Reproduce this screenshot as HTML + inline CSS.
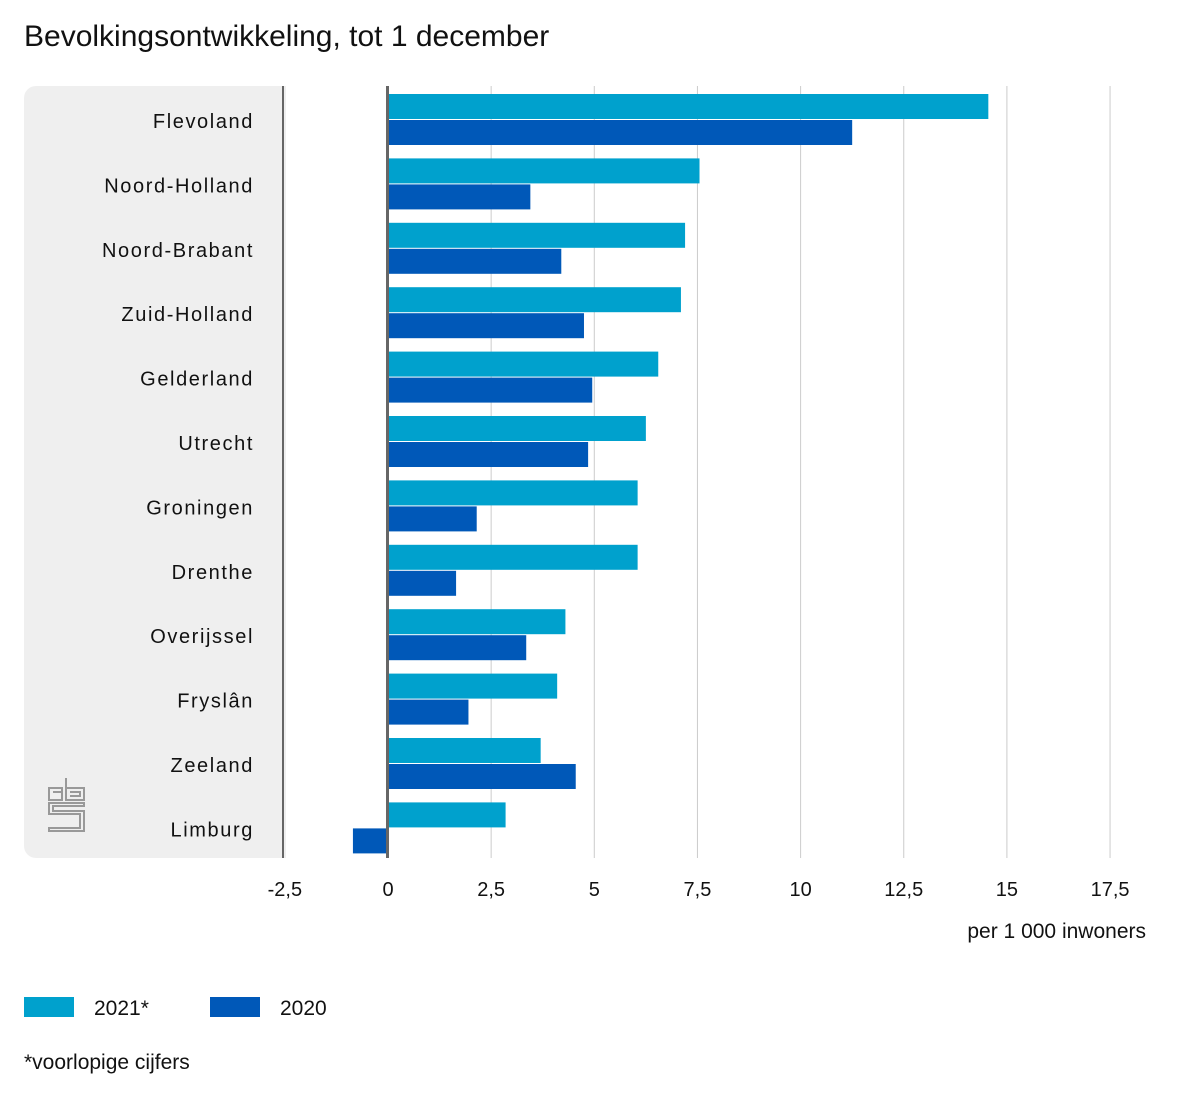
<!DOCTYPE html>
<html><head><meta charset="utf-8"><style>
body{margin:0;background:#fff;width:1200px;height:1100px;overflow:hidden;font-family:"Liberation Sans",sans-serif;}
</style></head><body>
<svg id="chart" width="1200" height="1100" xmlns="http://www.w3.org/2000/svg">
<text x="24" y="46" font-size="30" fill="#111">Bevolkingsontwikkeling, tot 1 december</text>
<rect x="24" y="86" width="262" height="772" rx="12" fill="#efefef"/>
<rect x="260" y="86" width="26" height="772" fill="#efefef"/>
<g id="grid"></g>
<g id="bars"></g>
<g id="labels"></g>
<line x1="283" y1="86" x2="283" y2="858" stroke="#666" stroke-width="2"/>
<line x1="387.5" y1="86" x2="387.5" y2="858" stroke="#666" stroke-width="3"/>
<text x="1146" y="938" font-size="21" text-anchor="end" fill="#111">per 1 000 inwoners</text>
<g fill="none" stroke="#999" stroke-width="2">
<path d="M49 788h13v12h-13z M53 792h9 M66 778v22h18v-12h-18 M70 792h10v4h-10"/>
<path d="M49 803h35v3h-31v5h31v20h-35v-3h31v-14h-31z"/>
</g>
<g>
<rect x="24" y="997" width="50" height="20" fill="#00a1cd"/>
<text x="94" y="1015" font-size="21" fill="#111">2021*</text>
<rect x="210" y="997" width="50" height="20" fill="#0058b8"/>
<text x="280" y="1015" font-size="21" fill="#111">2020</text>
</g>
<text x="24" y="1069" font-size="21" fill="#111">*voorlopige cijfers</text>
</svg>
<script>
const categories=["Flevoland","Noord-Holland","Noord-Brabant","Zuid-Holland","Gelderland","Utrecht","Groningen","Drenthe","Overijssel","Fryslân","Zeeland","Limburg"];
const values2021=[14.55,7.55,7.2,7.1,6.55,6.25,6.05,6.05,4.3,4.1,3.7,2.85];
const values2020=[11.25,3.45,4.2,4.75,4.95,4.85,2.15,1.65,3.35,1.95,4.55,-0.85];
const ticks=[-2.5,0,2.5,5,7.5,10,12.5,15,17.5];
const tickLabels=["-2,5","0","2,5","5","7,5","10","12,5","15","17,5"];
const NS="http://www.w3.org/2000/svg";
const x=v=>388+v*41.26;
const rowY=i=>88+i*64.4;
function mk(t,a,p){const e=document.createElementNS(NS,t);for(const k in a)e.setAttribute(k,a[k]);p.appendChild(e);return e;}
const grid=document.getElementById('grid'),bars=document.getElementById('bars'),labels=document.getElementById('labels');
ticks.forEach((t,i)=>{
 if(t>0){const l=mk('line',{x1:x(t),x2:x(t),y1:86,y2:858,stroke:'#ccc','stroke-width':1},grid);
 
 }
 const tx=mk('text',{x:x(t),y:896,'font-size':20,'text-anchor':'middle',fill:'#111'},grid);
 tx.textContent=tickLabels[i];
 
 
});
categories.forEach((c,i)=>{
 const y=rowY(i);
 const v1=values2021[i],v2=values2020[i];
 const b1=mk('rect',{x:Math.min(x(0),x(v1)),y:y+6,width:Math.abs(x(v1)-x(0)),height:25,fill:'#00a1cd'},bars);
 
 
 const b2=mk('rect',{x:Math.min(x(0),x(v2)),y:y+32,width:Math.abs(x(v2)-x(0)),height:25,fill:'#0058b8'},bars);
 
 
 const t=mk('text',{x:254,y:y+40,'font-size':20,'text-anchor':'end',fill:'#111','letter-spacing':'1.6'},labels);
 t.textContent=c;
 
 
});
</script>
</body></html>
